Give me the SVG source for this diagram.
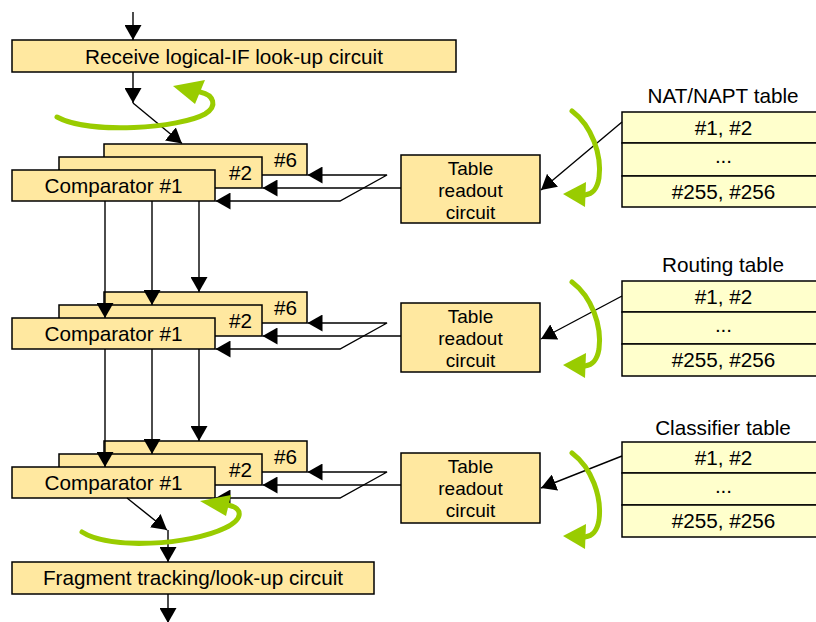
<svg xmlns="http://www.w3.org/2000/svg" width="816" height="622" viewBox="0 0 816 622">
  <style>
    .box { fill: #FFE8A0; stroke: #000; stroke-width: 1.5; }
    .tbl { fill: #FFFFCC; stroke: #000; stroke-width: 1.5; }
    .txt { font-family: "Liberation Sans", Arial, sans-serif; font-size: 20.7px; fill: #000; }
    .rd { font-size: 19px; }
    .mid { text-anchor: middle; }
    .end { text-anchor: end; }
    .wire { fill: none; stroke: #000; stroke-width: 1.4; }
    .arrow { marker-end: url(#ah); }
    .both { marker-start: url(#ah); marker-end: url(#ah); }
    .loop { fill: none; stroke: #99CC00; stroke-width: 5; stroke-linecap: round; }
    .loophead { fill: #99CC00; }
  </style>
  <defs>
    <marker id="ah" viewBox="0 0 15 17" refX="15" refY="8.5" markerWidth="15" markerHeight="17" markerUnits="userSpaceOnUse" orient="auto-start-reverse">
      <path d="M0,0 L15,8.5 L0,17 z" fill="#000"/>
    </marker>
  </defs>

  <rect width="816" height="622" fill="#fff"/>

  <!-- input / output circuits -->
  <g id="receive">
    <rect class="box" x="12" y="40" width="444" height="32"/>
    <text class="txt mid" x="234" y="63.5">Receive logical-IF look-up circuit</text>
  </g>
  <g id="fragment">
    <rect class="box" x="12" y="562" width="362" height="32"/>
    <text class="txt mid" x="193" y="585">Fragment tracking/look-up circuit</text>
  </g>

  <!-- stage 1 comparators (base y 144) -->
  <g id="s1-cmp6"><rect class="box" x="104" y="144" width="203" height="31"/><text class="txt end" x="297" y="167">#6</text></g>
  <g id="s1-cmp2"><rect class="box" x="59" y="157" width="203" height="31"/><text class="txt end" x="252" y="180">#2</text></g>
  <g id="s1-cmp1"><rect class="box" x="12" y="170" width="203" height="31"/><text class="txt mid" x="113.5" y="193">Comparator #1</text></g>
  <g id="s1-readout">
    <rect class="box" x="401" y="155" width="139" height="68"/>
    <text class="txt rd mid" x="470.5" y="175">Table</text>
    <text class="txt rd mid" x="470.5" y="197">readout</text>
    <text class="txt rd mid" x="470.5" y="219">circuit</text>
  </g>

  <!-- stage 2 comparators (base y 292) -->
  <g id="s2-cmp6"><rect class="box" x="104" y="292" width="203" height="31"/><text class="txt end" x="297" y="315">#6</text></g>
  <g id="s2-cmp2"><rect class="box" x="59" y="305" width="203" height="31"/><text class="txt end" x="252" y="328">#2</text></g>
  <g id="s2-cmp1"><rect class="box" x="12" y="318" width="203" height="31"/><text class="txt mid" x="113.5" y="341">Comparator #1</text></g>
  <g id="s2-readout">
    <rect class="box" x="401" y="303" width="139" height="69"/>
    <text class="txt rd mid" x="470.5" y="323">Table</text>
    <text class="txt rd mid" x="470.5" y="345">readout</text>
    <text class="txt rd mid" x="470.5" y="367">circuit</text>
  </g>

  <!-- stage 3 comparators (base y 441) -->
  <g id="s3-cmp6"><rect class="box" x="104" y="441" width="203" height="31"/><text class="txt end" x="297" y="464">#6</text></g>
  <g id="s3-cmp2"><rect class="box" x="59" y="454" width="203" height="31"/><text class="txt end" x="252" y="477">#2</text></g>
  <g id="s3-cmp1"><rect class="box" x="12" y="467" width="203" height="31"/><text class="txt mid" x="113.5" y="490">Comparator #1</text></g>
  <g id="s3-readout">
    <rect class="box" x="401" y="453" width="139" height="70"/>
    <text class="txt rd mid" x="470.5" y="473">Table</text>
    <text class="txt rd mid" x="470.5" y="495">readout</text>
    <text class="txt rd mid" x="470.5" y="517">circuit</text>
  </g>

  <!-- lookup tables -->
  <g id="nat-table">
    <text class="txt mid" x="723" y="103">NAT/NAPT table</text>
    <rect class="tbl" x="622" y="112" width="203" height="31"/>
    <rect class="tbl" x="622" y="143" width="203" height="33"/>
    <rect class="tbl" x="622" y="176" width="203" height="31"/>
    <text class="txt mid" x="723.5" y="134.5">#1, #2</text>
    <text class="txt mid" x="723.5" y="163">...</text>
    <text class="txt mid" x="723.5" y="198.5">#255, #256</text>
  </g>
  <g id="routing-table">
    <text class="txt mid" x="723" y="272">Routing table</text>
    <rect class="tbl" x="622" y="281" width="203" height="31"/>
    <rect class="tbl" x="622" y="312" width="203" height="32"/>
    <rect class="tbl" x="622" y="344" width="203" height="32"/>
    <text class="txt mid" x="723.5" y="303.5">#1, #2</text>
    <text class="txt mid" x="723.5" y="332">...</text>
    <text class="txt mid" x="723.5" y="367">#255, #256</text>
  </g>
  <g id="classifier-table">
    <text class="txt mid" x="723" y="435">Classifier table</text>
    <rect class="tbl" x="622" y="442" width="203" height="31"/>
    <rect class="tbl" x="622" y="473" width="203" height="32"/>
    <rect class="tbl" x="622" y="505" width="203" height="32"/>
    <text class="txt mid" x="723.5" y="464.5">#1, #2</text>
    <text class="txt mid" x="723.5" y="493">...</text>
    <text class="txt mid" x="723.5" y="528">#255, #256</text>
  </g>

  <!-- connectors -->
  <g id="connectors">
    <path class="wire arrow" d="M133,12 L133,40"/>
    <path class="wire arrow" d="M133,72 L133,103"/>
    <path class="wire arrow" d="M133,103 L182,143.5"/>

    <!-- stage 1 readout fan-out -->
    <path class="wire arrow" d="M401,188 L262.5,188"/>
    <path class="wire both" d="M307.5,175 L387,175 L340,201 L215.5,201"/>
    <!-- stage 1 to stage 2 -->
    <path class="wire arrow" d="M105,201 L105,318"/>
    <path class="wire arrow" d="M152,201 L152,305"/>
    <path class="wire arrow" d="M199,201 L199,292"/>

    <!-- stage 2 readout fan-out -->
    <path class="wire arrow" d="M401,336 L262.5,336"/>
    <path class="wire both" d="M307.5,323 L387,323 L340,349 L215.5,349"/>
    <!-- stage 2 to stage 3 -->
    <path class="wire arrow" d="M105,349 L105,467"/>
    <path class="wire arrow" d="M152,349 L152,454"/>
    <path class="wire arrow" d="M199,349 L199,441"/>

    <!-- stage 3 readout fan-out -->
    <path class="wire arrow" d="M401,485 L262.5,485"/>
    <path class="wire both" d="M307.5,472 L387,472 L340,498 L215.5,498"/>

    <!-- to fragment circuit -->
    <path class="wire arrow" d="M127,498 L167,530"/>
    <path class="wire arrow" d="M168,530 L168,562"/>
    <path class="wire arrow" d="M168,594 L168,623"/>

    <!-- table entries into readout circuits -->
    <path class="wire arrow" d="M622,122 L541,190"/>
    <path class="wire arrow" d="M622,296 L541,339"/>
    <path class="wire arrow" d="M622,456 L541,488"/>
  </g>

  <!-- loop indicators -->
  <g id="loops">
    <path class="loop" d="M57,117 C90,135 180,128 205,114 C218,106 214,95 200,92"/>
    <polygon class="loophead" points="173,86 205,80 195,104"/>

    <path class="loop" d="M82,532 C110,550 190,545 225,528 C245,518 242,508 228,505"/>
    <polygon class="loophead" points="200,501 231,495 226,516"/>

    <g id="nat-loop">
      <path class="loop" d="M572,111 C592,126 602,155 599,178 C597,190 592,194 585,195"/>
      <polygon class="loophead" points="563,194 586,182 585,207"/>
    </g>
    <g id="routing-loop" transform="translate(0,171)">
      <path class="loop" d="M572,111 C592,126 602,155 599,178 C597,190 592,194 585,195"/>
      <polygon class="loophead" points="563,194 586,182 585,207"/>
    </g>
    <g id="classifier-loop" transform="translate(0,342)">
      <path class="loop" d="M572,111 C592,126 602,155 599,178 C597,190 592,194 585,195"/>
      <polygon class="loophead" points="563,194 586,182 585,207"/>
    </g>
  </g>
</svg>
